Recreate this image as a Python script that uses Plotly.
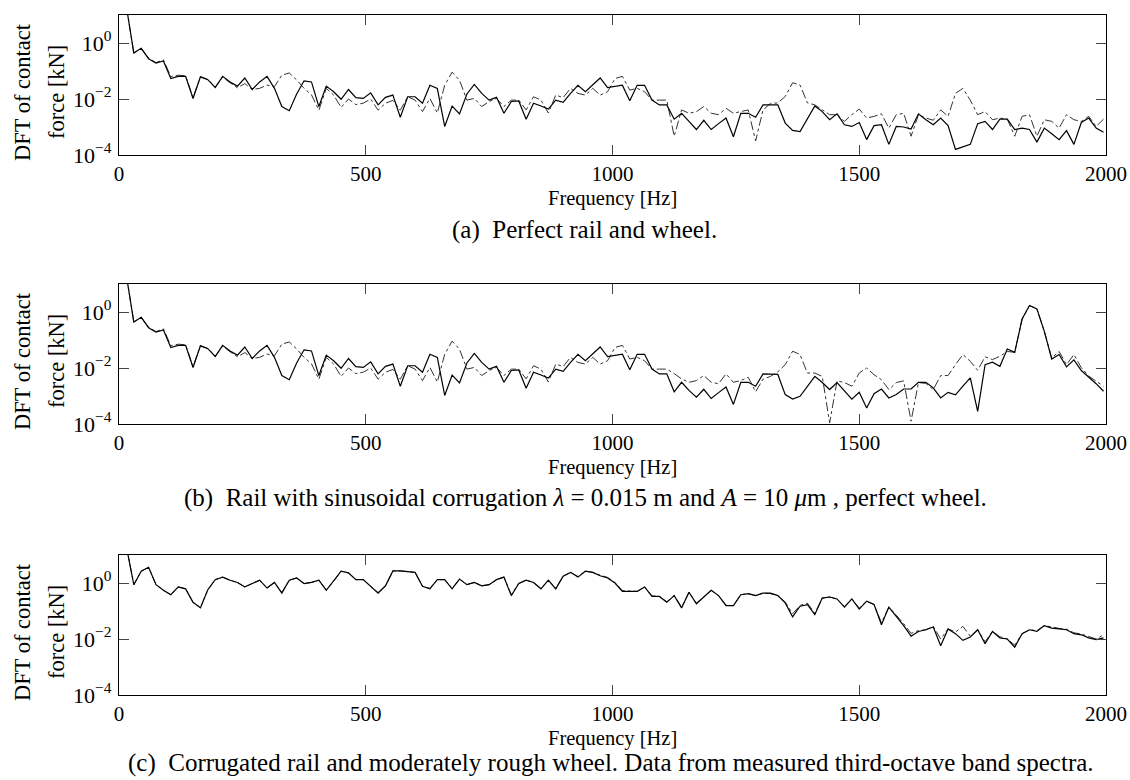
import plotly.graph_objects as go

# DFT frequency bins [Hz]
freq = [15 * k for k in range(1, 134)]

# log10 of |DFT of contact force| [kN]
# (a) Perfect rail and wheel
solid_a_log = [
    1.3, -0.36, -0.19, -0.56, -0.72, -0.64, -1.27, -1.19, -1.19, -1.98,
    -1.21, -1.31, -1.59, -1.19, -1.39, -1.54, -1.25, -1.66, -1.39, -1.19,
    -1.62, -2.27, -2.42, -1.82, -1.35, -1.39, -2.27, -1.54, -1.74, -2.01,
    -1.66, -1.95, -1.98, -1.78, -2.21, -1.94, -1.86, -2.65, -1.92, -1.92,
    -2.15, -1.51, -1.62, -2.98, -2.25, -2.53, -1.82, -1.48, -1.80, -2.04,
    -1.94, -2.51, -2.09, -2.07, -2.72, -2.15, -2.25, -2.36, -2.04, -2.12,
    -1.80, -1.51, -1.74, -1.51, -1.25, -1.59, -1.54, -1.51, -2.06, -1.51,
    -1.51, -2.04, -2.21, -2.21, -2.72, -2.51, -2.80, -3.09, -2.76, -3.09,
    -2.88, -2.68, -3.35, -2.51, -2.51, -2.65, -2.21, -2.21, -2.21, -2.86,
    -3.12, -3.16, -2.68, -2.25, -2.45, -2.74, -2.53, -2.92, -2.98, -2.84,
    -3.45, -2.95, -2.92, -3.62, -2.98, -3.00, -3.07, -2.53, -2.74, -2.92,
    -2.68, -2.95, -3.80, -3.71, -3.62, -2.88, -2.80, -3.09, -2.72, -2.72,
    -3.09, -3.04, -3.09, -3.54, -3.04, -3.24, -3.45, -3.13, -3.62, -2.84,
    -2.68, -3.04, -3.19,
]
dash_a_log = [
    1.3, -0.36, -0.19, -0.54, -0.70, -0.60, -1.20, -1.15, -1.17, -1.95,
    -1.20, -1.30, -1.58, -1.22, -1.42, -1.60, -1.45, -1.66, -1.62, -1.50,
    -1.56, -1.15, -1.07, -1.32, -1.62, -1.85, -2.40, -1.62, -1.86, -2.30,
    -2.00, -2.20, -2.15, -2.00, -2.40, -2.15, -2.05, -2.40, -1.92, -2.04,
    -2.45, -1.98, -2.50, -1.51, -1.04, -1.33, -2.04, -1.98, -2.27, -2.09,
    -1.98, -2.27, -2.04, -2.04, -2.39, -1.92, -2.04, -2.50, -1.86, -1.95,
    -1.62, -1.80, -1.86, -1.62, -1.86, -1.74, -1.27, -1.19, -1.68, -1.62,
    -1.74, -2.04, -2.04, -2.04, -3.33, -2.39, -2.51, -2.45, -2.27, -2.51,
    -2.56, -2.33, -2.51, -2.45, -2.39, -3.50, -2.39, -2.16, -2.14, -1.91,
    -1.42, -1.50, -2.14, -2.21, -2.39, -2.56, -2.56, -2.80, -2.56, -2.36,
    -2.68, -2.62, -2.53, -3.04, -2.56, -2.51, -3.33, -2.56, -2.68, -2.76,
    -2.39, -2.62, -1.80, -1.62, -2.04, -2.56, -2.45, -2.74, -2.68, -2.72,
    -3.33, -2.62, -2.56, -3.33, -2.74, -2.80, -3.04, -2.56, -2.74, -2.80,
    -2.62, -2.98, -2.72,
]

# (b) Rail with sinusoidal corrugation, perfect wheel
solid_b_log = [
    1.3, -0.36, -0.19, -0.56, -0.72, -0.64, -1.27, -1.19, -1.19, -1.98,
    -1.21, -1.31, -1.59, -1.19, -1.39, -1.54, -1.25, -1.66, -1.39, -1.19,
    -1.62, -2.27, -2.42, -1.82, -1.35, -1.39, -2.27, -1.54, -1.74, -2.01,
    -1.66, -1.95, -1.98, -1.78, -2.21, -1.94, -1.86, -2.65, -1.92, -1.92,
    -2.15, -1.51, -1.62, -2.98, -2.25, -2.53, -1.82, -1.48, -1.80, -2.04,
    -1.94, -2.51, -2.09, -2.07, -2.72, -2.15, -2.25, -2.36, -2.04, -2.12,
    -1.80, -1.51, -1.74, -1.51, -1.25, -1.59, -1.54, -1.51, -2.06, -1.51,
    -1.51, -2.04, -2.21, -2.21, -2.85, -2.51, -2.80, -3.04, -2.76, -3.09,
    -2.88, -2.68, -3.30, -2.51, -2.51, -2.65, -2.21, -2.23, -2.23, -2.95,
    -3.11, -3.01, -2.65, -2.30, -2.52, -2.77, -2.52, -2.83, -3.11, -2.87,
    -3.43, -2.92, -2.75, -3.07, -2.95, -2.75, -2.75, -2.51, -2.51, -2.71,
    -3.07, -2.87, -2.96, -2.65, -2.35, -3.55, -1.88, -1.79, -1.94, -1.32,
    -1.44, -0.25, 0.23, 0.11, -0.69, -1.68, -1.52, -1.96, -1.71, -2.09,
    -2.32, -2.56, -2.83,
]
dash_b_log = [
    1.3, -0.36, -0.19, -0.54, -0.70, -0.60, -1.20, -1.15, -1.17, -1.95,
    -1.20, -1.30, -1.58, -1.22, -1.42, -1.60, -1.45, -1.66, -1.62, -1.50,
    -1.56, -1.15, -1.07, -1.32, -1.62, -1.85, -2.40, -1.62, -1.86, -2.30,
    -2.00, -2.20, -2.15, -2.00, -2.40, -2.15, -2.05, -2.40, -1.92, -2.04,
    -2.45, -1.98, -2.50, -1.51, -1.04, -1.33, -2.04, -1.98, -2.27, -2.09,
    -1.98, -2.27, -2.04, -2.04, -2.39, -1.92, -2.04, -2.50, -1.86, -1.95,
    -1.62, -1.80, -1.86, -1.62, -1.86, -1.74, -1.27, -1.19, -1.68, -1.62,
    -1.74, -2.04, -2.04, -2.04, -2.20, -2.39, -2.51, -2.45, -2.27, -2.51,
    -2.56, -2.21, -2.51, -2.45, -2.33, -2.85, -2.40, -2.30, -2.14, -1.88,
    -1.40, -1.52, -2.18, -2.18, -2.30, -3.96, -2.46, -2.52, -2.65, -2.18,
    -2.00, -2.24, -2.42, -2.77, -2.52, -2.46, -3.90, -2.52, -2.55, -2.77,
    -2.27, -2.27, -1.88, -1.52, -1.76, -2.08, -1.60, -1.70, -1.58, -1.41,
    -1.44, -0.25, 0.23, 0.11, -0.69, -1.64, -1.41, -1.88, -1.52, -1.99,
    -2.29, -2.47, -2.65,
]

# (c) Corrugated rail and moderately rough wheel
solid_c_log = [
    1.3, -0.06, 0.42, 0.56, -0.06, -0.26, -0.42, -0.14, -0.21, -0.69,
    -0.89, -0.24, 0.12, 0.21, 0.10, 0.02, -0.14, -0.02, 0.10, -0.18,
    0.02, -0.36, 0.10, 0.18, -0.02, 0.02, 0.10, -0.26, 0.06, 0.42,
    0.36, 0.12, 0.12, -0.12, -0.36, -0.10, 0.43, 0.43, 0.40, 0.38,
    -0.12, -0.21, 0.12, 0.12, -0.21, 0.14, -0.06, 0.02, -0.10, -0.06,
    0.12, 0.21, -0.45, -0.02, 0.10, 0.02, -0.21, 0.10, -0.21, 0.24,
    0.38, 0.21, 0.42, 0.38, 0.26, 0.18, 0.00, -0.30, -0.30, -0.30,
    -0.14, -0.48, -0.48, -0.69, -0.45, -0.89, -0.33, -0.74, -0.50, -0.26,
    -0.45, -0.81, -0.81, -0.42, -0.38, -0.45, -0.36, -0.36, -0.45, -0.71,
    -1.21, -0.83, -0.77, -1.13, -0.54, -0.50, -0.57, -0.86, -0.57, -0.93,
    -0.65, -0.77, -1.49, -0.86, -1.19, -1.52, -1.90, -1.73, -1.67, -1.57,
    -2.24, -1.64, -1.81, -2.05, -1.93, -1.67, -2.17, -1.73, -1.96, -2.00,
    -2.29, -1.81, -1.67, -1.73, -1.52, -1.61, -1.64, -1.67, -1.81, -1.85,
    -1.96, -2.02, -1.96,
]
dash_c_log = [
    1.3, -0.06, 0.42, 0.56, -0.06, -0.26, -0.42, -0.14, -0.21, -0.69,
    -0.87, -0.24, 0.12, 0.21, 0.10, 0.02, -0.14, -0.02, 0.10, -0.18,
    0.02, -0.34, 0.10, 0.18, -0.02, 0.02, 0.10, -0.24, 0.06, 0.42,
    0.36, 0.12, 0.12, -0.12, -0.34, -0.10, 0.43, 0.43, 0.40, 0.38,
    -0.12, -0.19, 0.12, 0.12, -0.19, 0.14, -0.06, 0.02, -0.10, -0.06,
    0.12, 0.21, -0.42, -0.02, 0.10, 0.02, -0.19, 0.10, -0.19, 0.24,
    0.38, 0.23, 0.42, 0.38, 0.28, 0.20, 0.02, -0.27, -0.29, -0.30,
    -0.14, -0.46, -0.48, -0.67, -0.45, -0.86, -0.33, -0.72, -0.50, -0.26,
    -0.45, -0.79, -0.81, -0.42, -0.38, -0.45, -0.36, -0.38, -0.45, -0.68,
    -1.10, -0.80, -0.72, -1.08, -0.54, -0.50, -0.57, -0.84, -0.57, -0.90,
    -0.65, -0.77, -1.42, -0.86, -1.15, -1.45, -1.80, -1.70, -1.67, -1.55,
    -2.00, -1.64, -1.75, -1.55, -1.90, -1.67, -2.10, -1.73, -1.92, -2.00,
    -2.22, -1.81, -1.67, -1.70, -1.52, -1.58, -1.62, -1.65, -1.78, -1.82,
    -1.92, -2.00, -1.85,
]

x_ticks = [0, 500, 1000, 1500, 2000]
x_tick_text = ["0", "500", "1000", "1500", "2000"]
y_ticks = [1e-4, 1e-2, 1e0]
y_tick_text = ["10<sup>−4</sup>", "10<sup>−2</sup>", "10<sup>0</sup>"]

NB = "\u00a0"
captions = [
    "(a)" + NB * 2 + "Perfect rail and wheel.",
    "(b)" + NB * 2 + "Rail with sinusoidal corrugation <i>λ</i> = 0.015" + NB
    + "m and <i>A</i> = 10" + NB + "<i>μ</i>m , perfect wheel.",
    "(c)" + NB * 2 + "Corrugated rail and moderately rough wheel. Data from measured third-octave band spectra.",
]

panels = [
    (solid_a_log, dash_a_log),
    (solid_b_log, dash_b_log),
    (solid_c_log, dash_c_log),
]

W, H = 1130, 780
x_left, x_right = 119, 1106
# pixel top/bottom for each plot area
boxes = [(15, 155), (284, 424), (555, 695)]
caption_y = [230, 498, 763]
caption_x = [584, 585, 611]

FONT = "Liberation Serif"

fig = go.Figure()
layout = dict(
    width=W, height=H,
    margin=dict(l=0, r=0, t=0, b=0, autoexpand=False),
    paper_bgcolor="white", plot_bgcolor="white",
    showlegend=False,
    font=dict(family=FONT, size=20, color="black"),
)
annotations = []

for i, ((s_log, d_log), (top, bot)) in enumerate(zip(panels, boxes)):
    n = "" if i == 0 else str(i + 1)
    xa, ya = "x" + n, "y" + n
    fig.add_trace(go.Scatter(
        x=freq, y=[10 ** v for v in d_log], mode="lines",
        line=dict(color="#333333", width=1, dash="dashdot"),
        xaxis=xa, yaxis=ya,
    ))
    fig.add_trace(go.Scatter(
        x=freq, y=[10 ** v for v in s_log], mode="lines",
        line=dict(color="black", width=1.2),
        xaxis=xa, yaxis=ya,
    ))
    layout["xaxis" + n] = dict(
        domain=[x_left / W, x_right / W], anchor=ya, range=[0, 2000],
        tickvals=x_ticks, ticktext=x_tick_text,
        ticks="inside", ticklen=10, tickcolor="#444444", tickwidth=1,
        showline=True, linecolor="black", linewidth=1.3, mirror="ticks",
        showgrid=False, zeroline=False, automargin=False,
        tickfont=dict(family=FONT, size=21), ticklabelstandoff=0,
    )
    layout["yaxis" + n] = dict(
        domain=[1 - bot / H, 1 - top / H], anchor=xa, type="log", range=[-4, 1],
        tickvals=y_ticks, ticktext=y_tick_text,
        ticks="inside", ticklen=10, tickcolor="#444444", tickwidth=1,
        showline=True, linecolor="black", linewidth=1.3, mirror="ticks",
        showgrid=False, zeroline=False, automargin=False,
        tickfont=dict(family=FONT, size=22), ticklabelstandoff=2,
    )
    mid = (top + bot) / 2 + 7
    annotations.append(dict(
        text="DFT of contact", x=22 / W, y=1 - mid / H, xref="paper", yref="paper",
        textangle=-90, showarrow=False, xanchor="center", yanchor="middle",
        font=dict(family=FONT, size=22.5),
    ))
    annotations.append(dict(
        text="force [kN]", x=56 / W, y=1 - mid / H, xref="paper", yref="paper",
        textangle=-90, showarrow=False, xanchor="center", yanchor="middle",
        font=dict(family=FONT, size=22.5),
    ))
    annotations.append(dict(
        text="Frequency [Hz]", x=612 / W, y=1 - (bot + 43) / H, xref="paper", yref="paper",
        showarrow=False, xanchor="center", yanchor="middle",
        font=dict(family=FONT, size=20.5),
    ))
    annotations.append(dict(
        text=captions[i], x=caption_x[i] / W, y=1 - caption_y[i] / H,
        xref="paper", yref="paper",
        showarrow=False, xanchor="center", yanchor="middle",
        font=dict(family=FONT, size=25),
    ))

layout["annotations"] = annotations
fig.update_layout(**layout)
fig.write_html(
    "out.html",
    config={"displayModeBar": False},
    post_script="document.body.style.margin='0';document.body.style.overflow='hidden';",
)
